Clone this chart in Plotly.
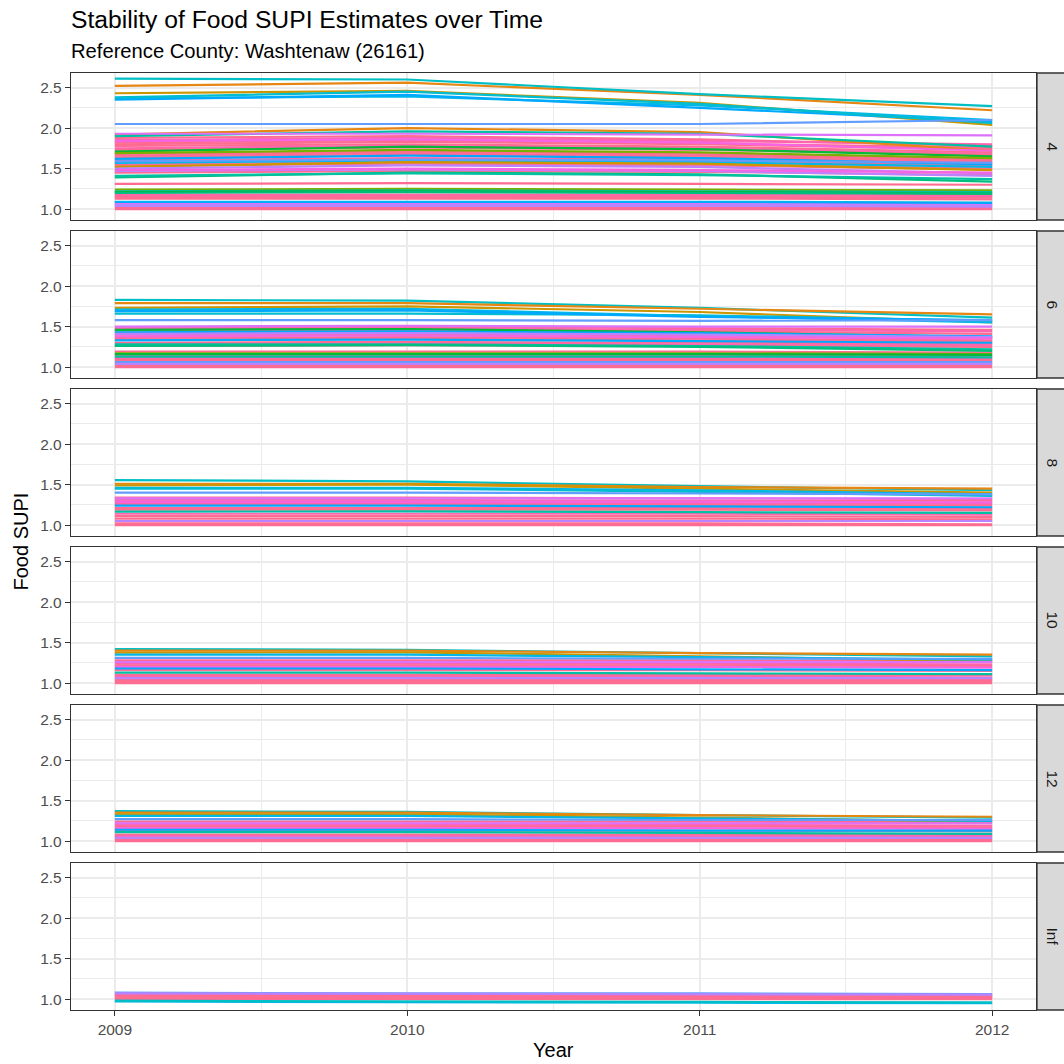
import plotly.graph_objects as go

# ---------------- data ----------------
years = [2009, 2010, 2011, 2012]
thresholds = ["4", "6", "8", "10", "12", "Inf"]
y_ticks = [1.0, 1.5, 2.0, 2.5]
y_tick_labels = ["1.0", "1.5", "2.0", "2.5"]
x_tick_labels = ["2009", "2010", "2011", "2012"]

ORG, GLD, LIM, GRN, TGR, TEA, CYN, CY2, CY3, BLU, BL2, PUR, VIO, MAG, PNK, PK2 = (
    "#E68613", "#CD9600", "#7CAE00", "#00BA38", "#00BF7D", "#00C1A3", "#00BFC4",
    "#00B8E7", "#00BDD0", "#619CFF", "#00A9FF", "#B983FF", "#DE71F9", "#F564E3",
    "#FF6C91", "#FF64B0")

colors_4 = [ORG, GLD, CYN, CY2, BL2, CY3, BLU,
            ORG, TEA, GRN, LIM, BL2, CY2, GLD, PUR, TGR, TEA,
            PNK, PK2, PNK, MAG, PNK, PNK, PK2, PNK, PNK, BLU, PNK, PNK, PK2, PNK,
            PNK, PUR, PNK, MAG, PNK, VIO,
            PNK, LIM, TEA, GRN, TGR, PNK, PK2, PNK, PNK, CY2, BL2, VIO, PUR, PUR, PNK, PNK]
supi_4 = [
    [2.52, 2.56, 2.41, 2.22], [2.43, 2.46, 2.31, 2.04], [2.61, 2.60, 2.42, 2.27],
    [2.37, 2.39, 2.28, 2.10], [2.35, 2.41, 2.25, 2.08], [2.38, 2.45, 2.30, 2.06],
    [2.05, 2.05, 2.05, 2.10],
    [1.92, 2.00, 1.95, 1.72], [1.90, 1.96, 1.93, 1.77], [1.71, 1.77, 1.74, 1.65],
    [1.69, 1.73, 1.70, 1.63], [1.62, 1.66, 1.63, 1.55], [1.57, 1.60, 1.58, 1.52],
    [1.52, 1.58, 1.56, 1.48], [1.50, 1.54, 1.52, 1.44], [1.39, 1.45, 1.43, 1.34],
    [1.41, 1.44, 1.42, 1.37],
    [1.88, 1.90, 1.86, 1.78], [1.85, 1.88, 1.84, 1.80], [1.82, 1.85, 1.81, 1.76],
    [1.84, 1.86, 1.82, 1.72], [1.80, 1.83, 1.80, 1.74], [1.78, 1.80, 1.77, 1.70],
    [1.75, 1.78, 1.75, 1.68], [1.73, 1.76, 1.73, 1.67], [1.68, 1.71, 1.68, 1.62],
    [1.59, 1.61, 1.60, 1.57], [1.66, 1.69, 1.66, 1.60], [1.64, 1.67, 1.64, 1.58],
    [1.60, 1.63, 1.61, 1.56], [1.58, 1.62, 1.60, 1.54], [1.55, 1.58, 1.56, 1.50],
    [1.47, 1.49, 1.47, 1.41], [1.53, 1.56, 1.54, 1.49], [1.48, 1.50, 1.48, 1.45],
    [1.45, 1.47, 1.46, 1.42], [1.93, 1.93, 1.92, 1.91],
    [1.31, 1.32, 1.31, 1.30], [1.24, 1.25, 1.24, 1.23], [1.22, 1.23, 1.22, 1.21],
    [1.21, 1.22, 1.21, 1.19], [1.20, 1.21, 1.20, 1.19], [1.18, 1.18, 1.18, 1.17],
    [1.17, 1.17, 1.17, 1.16], [1.15, 1.15, 1.15, 1.14], [1.13, 1.13, 1.13, 1.12],
    [1.09, 1.09, 1.09, 1.08], [1.08, 1.08, 1.08, 1.07], [1.06, 1.06, 1.06, 1.05],
    [1.05, 1.05, 1.05, 1.04], [1.04, 1.04, 1.04, 1.03], [1.02, 1.02, 1.02, 1.02],
    [1.00, 1.00, 1.00, 1.00],
]

colors_6 = [CYN, ORG, GLD, CY2, CY3, BL2, BLU,
            VIO, GRN, PNK, PK2, BL2, PNK, PUR, PNK, MAG, PNK, BL2, PNK, PNK, PK2, PNK,
            TEA, TGR,
            PNK, LIM, GRN, TEA, PNK, PK2, PNK, BLU, PUR, PNK, PNK]
supi_6 = [
    [1.83, 1.82, 1.73, 1.61], [1.79, 1.79, 1.72, 1.65], [1.73, 1.75, 1.68, 1.55],
    [1.71, 1.72, 1.63, 1.55], [1.66, 1.66, 1.64, 1.57], [1.69, 1.70, 1.62, 1.58],
    [1.58, 1.58, 1.57, 1.58],
    [1.50, 1.51, 1.50, 1.50], [1.46, 1.47, 1.43, 1.37], [1.49, 1.50, 1.48, 1.46],
    [1.47, 1.48, 1.46, 1.44], [1.43, 1.44, 1.42, 1.38], [1.45, 1.46, 1.44, 1.41],
    [1.41, 1.42, 1.40, 1.37], [1.40, 1.41, 1.39, 1.36], [1.38, 1.39, 1.37, 1.35],
    [1.36, 1.37, 1.35, 1.33], [1.33, 1.34, 1.32, 1.30], [1.34, 1.35, 1.33, 1.31],
    [1.30, 1.31, 1.30, 1.29], [1.28, 1.29, 1.28, 1.27], [1.26, 1.27, 1.26, 1.25],
    [1.28, 1.28, 1.26, 1.22], [1.26, 1.27, 1.25, 1.20],
    [1.19, 1.19, 1.19, 1.18], [1.17, 1.17, 1.17, 1.16], [1.16, 1.16, 1.16, 1.15],
    [1.13, 1.13, 1.13, 1.12], [1.14, 1.14, 1.14, 1.13], [1.11, 1.11, 1.11, 1.10],
    [1.09, 1.09, 1.09, 1.08], [1.06, 1.06, 1.06, 1.06], [1.04, 1.04, 1.04, 1.04],
    [1.02, 1.02, 1.02, 1.02], [1.00, 1.00, 1.00, 1.00],
]

colors_8 = [CYN, ORG, GLD, CY2, CY3, BLU,
            VIO, PNK, MAG, PNK, PK2, BL2, PNK, PNK, TEA, PNK, PK2, PUR, PNK, PNK, PNK, PNK]
supi_8 = [
    [1.555, 1.54, 1.48, 1.43], [1.51, 1.51, 1.47, 1.45], [1.49, 1.50, 1.45, 1.40],
    [1.46, 1.46, 1.43, 1.38], [1.45, 1.45, 1.41, 1.36], [1.40, 1.40, 1.39, 1.38],
    [1.33, 1.33, 1.33, 1.33], [1.34, 1.34, 1.33, 1.32], [1.29, 1.29, 1.29, 1.28],
    [1.31, 1.31, 1.30, 1.30], [1.27, 1.27, 1.27, 1.26], [1.24, 1.24, 1.23, 1.22],
    [1.25, 1.25, 1.25, 1.24], [1.21, 1.21, 1.21, 1.20], [1.165, 1.17, 1.16, 1.15],
    [1.19, 1.19, 1.19, 1.18], [1.14, 1.14, 1.14, 1.13], [1.05, 1.05, 1.05, 1.05],
    [1.11, 1.11, 1.11, 1.10], [1.08, 1.08, 1.08, 1.07], [1.02, 1.02, 1.02, 1.01],
    [1.00, 1.00, 1.00, 1.00],
]

colors_10 = [CYN, ORG, GLD, CY2, BLU,
             PNK, VIO, PK2, PNK, MAG, BL2, PNK, TEA, PNK, PK2, PUR, PNK, PNK, PNK]
supi_10 = [
    [1.42, 1.41, 1.37, 1.33], [1.40, 1.40, 1.37, 1.35], [1.375, 1.38, 1.33, 1.27],
    [1.35, 1.35, 1.32, 1.29], [1.31, 1.31, 1.30, 1.30],
    [1.28, 1.28, 1.28, 1.27], [1.26, 1.26, 1.26, 1.26], [1.24, 1.24, 1.24, 1.23],
    [1.22, 1.22, 1.22, 1.21], [1.20, 1.20, 1.20, 1.19], [1.18, 1.18, 1.17, 1.16],
    [1.16, 1.16, 1.16, 1.15], [1.13, 1.13, 1.12, 1.11], [1.10, 1.10, 1.10, 1.10],
    [1.08, 1.08, 1.08, 1.07], [1.06, 1.06, 1.06, 1.06], [1.04, 1.04, 1.04, 1.04],
    [1.02, 1.02, 1.02, 1.02], [1.00, 1.00, 1.00, 1.00],
]

colors_12 = [CYN, ORG, GLD, CY2, BLU,
             PNK, VIO, PK2, PNK, MAG, BL2, PNK, TEA, PNK, PK2, PUR, PNK, PNK]
supi_12 = [
    [1.37, 1.36, 1.32, 1.29], [1.35, 1.35, 1.32, 1.30], [1.33, 1.33, 1.29, 1.24],
    [1.31, 1.31, 1.28, 1.25], [1.27, 1.27, 1.26, 1.26],
    [1.24, 1.24, 1.24, 1.23], [1.22, 1.22, 1.22, 1.22], [1.20, 1.20, 1.20, 1.19],
    [1.18, 1.18, 1.18, 1.17], [1.16, 1.16, 1.16, 1.15], [1.14, 1.14, 1.13, 1.13],
    [1.13, 1.13, 1.13, 1.12], [1.11, 1.11, 1.10, 1.09], [1.08, 1.08, 1.08, 1.08],
    [1.06, 1.06, 1.06, 1.06], [1.04, 1.04, 1.04, 1.04], [1.02, 1.02, 1.02, 1.02],
    [1.00, 1.00, 1.00, 1.00],
]

colors_inf = [BLU, PUR, PNK, PK2, PNK, PNK, PNK, PNK, CY2, CYN]
supi_inf = [
    [1.08, 1.07, 1.07, 1.06], [1.07, 1.065, 1.06, 1.055], [1.06, 1.055, 1.05, 1.05],
    [1.05, 1.045, 1.04, 1.04], [1.04, 1.035, 1.03, 1.03], [1.03, 1.025, 1.02, 1.02],
    [1.02, 1.015, 1.01, 1.01], [1.00, 1.00, 1.00, 1.00],
    [0.97, 0.96, 0.955, 0.95], [0.98, 0.97, 0.965, 0.96],
]

panels = [(supi_4, colors_4), (supi_6, colors_6), (supi_8, colors_8),
          (supi_10, colors_10), (supi_12, colors_12), (supi_inf, colors_inf)]

# ---------------- layout geometry (pixels) ----------------
W = H = 1064
panel_tops = [73, 231, 389, 547, 705, 863]
panel_h = 147
left_px, right_px = 71, 1036

def fx(p):
    return p / W

def fy(p):
    return 1 - p / H

FONT = "Liberation Sans, Arial, Helvetica, sans-serif"
GRID = "#EBEBEB"
BORDER = "#333333"
PINKS = {PNK, PK2}

fig = go.Figure()
layout = dict(
    width=W, height=H, margin=dict(l=0, r=0, t=0, b=0),
    paper_bgcolor="white", plot_bgcolor="white", showlegend=False,
    font=dict(family=FONT, color="#4D4D4D"),
)

shapes = []
annotations = []
for i, (vals, cols) in enumerate(panels):
    n = i + 1
    xa = "x" if n == 1 else f"x{n}"
    ya = "y" if n == 1 else f"y{n}"
    # pink county lines first, other hues drawn over them
    ordered = [(v, c) for v, c in zip(vals, cols) if c in PINKS] + \
              [(v, c) for v, c in zip(vals, cols) if c not in PINKS]
    for v, c in ordered:
        fig.add_trace(go.Scatter(x=years, y=v, mode="lines", xaxis=xa, yaxis=ya,
                                 line=dict(color=c, width=2.2), hoverinfo="skip",
                                 showlegend=False))
    top = panel_tops[i]
    bot = top + panel_h
    last = (n == len(panels))
    layout[f"xaxis{'' if n == 1 else n}"] = dict(
        domain=[fx(left_px), fx(right_px)], anchor=ya, range=[2008.85, 2012.15],
        tickmode="array", tickvals=years, ticktext=x_tick_labels,
        showticklabels=last, ticks="outside" if last else "", ticklen=5,
        tickwidth=1.2, tickcolor=BORDER,
        tickfont=dict(size=15.5, color="#4D4D4D", family=FONT),
        showgrid=True, gridcolor=GRID, gridwidth=1.6, zeroline=False,
        showline=True, mirror=True, linecolor=BORDER, linewidth=1.3,
        minor=dict(tickmode="array", tickvals=[2009.5, 2010.5, 2011.5],
                   showgrid=True, gridcolor=GRID, gridwidth=0.8, ticks=""),
        fixedrange=True,
    )
    layout[f"yaxis{'' if n == 1 else n}"] = dict(
        domain=[fy(bot), fy(top)], anchor=xa, range=[0.865, 2.68],
        tickmode="array", tickvals=y_ticks, ticktext=y_tick_labels,
        ticks="outside", ticklen=5, tickwidth=1.2, tickcolor=BORDER,
        tickfont=dict(size=15.5, color="#4D4D4D", family=FONT),
        showgrid=True, gridcolor=GRID, gridwidth=1.6, zeroline=False,
        showline=True, mirror=True, linecolor=BORDER, linewidth=1.3,
        minor=dict(tickmode="array", tickvals=[1.25, 1.75, 2.25],
                   showgrid=True, gridcolor=GRID, gridwidth=0.8, ticks=""),
        fixedrange=True,
    )
    # strip on the right
    shapes.append(dict(type="rect", xref="paper", yref="paper",
                       x0=fx(1037), x1=fx(1075), y0=fy(bot), y1=fy(top),
                       fillcolor="#D9D9D9", line=dict(color=BORDER, width=1.3),
                       layer="above"))
    annotations.append(dict(xref="paper", yref="paper", x=fx(1052),
                            y=fy(top + panel_h / 2), text=thresholds[i],
                            textangle=90, showarrow=False,
                            font=dict(size=15.5, color="#1A1A1A", family=FONT),
                            xanchor="center", yanchor="middle"))

annotations += [
    dict(xref="paper", yref="paper", x=fx(69), y=fy(19), xanchor="left",
         yanchor="middle", showarrow=False,
         text="Stability of Food SUPI Estimates over Time",
         font=dict(size=24.7, color="black", family=FONT)),
    dict(xref="paper", yref="paper", x=fx(69), y=fy(51), xanchor="left",
         yanchor="middle", showarrow=False,
         text="Reference County: Washtenaw (26161)",
         font=dict(size=20.2, color="black", family=FONT)),
    dict(xref="paper", yref="paper", x=fx((left_px + right_px) / 2), y=fy(1050),
         xanchor="center", yanchor="middle", showarrow=False, text="Year",
         font=dict(size=20, color="black", family=FONT)),
    dict(xref="paper", yref="paper", x=fx(20), y=fy((73 + 1010) / 2),
         xanchor="center", yanchor="middle", showarrow=False, text="Food SUPI",
         textangle=-90, font=dict(size=20, color="black", family=FONT)),
]

layout["shapes"] = shapes
layout["annotations"] = annotations
fig.update_layout(**layout)
fig.write_html("out.html")
